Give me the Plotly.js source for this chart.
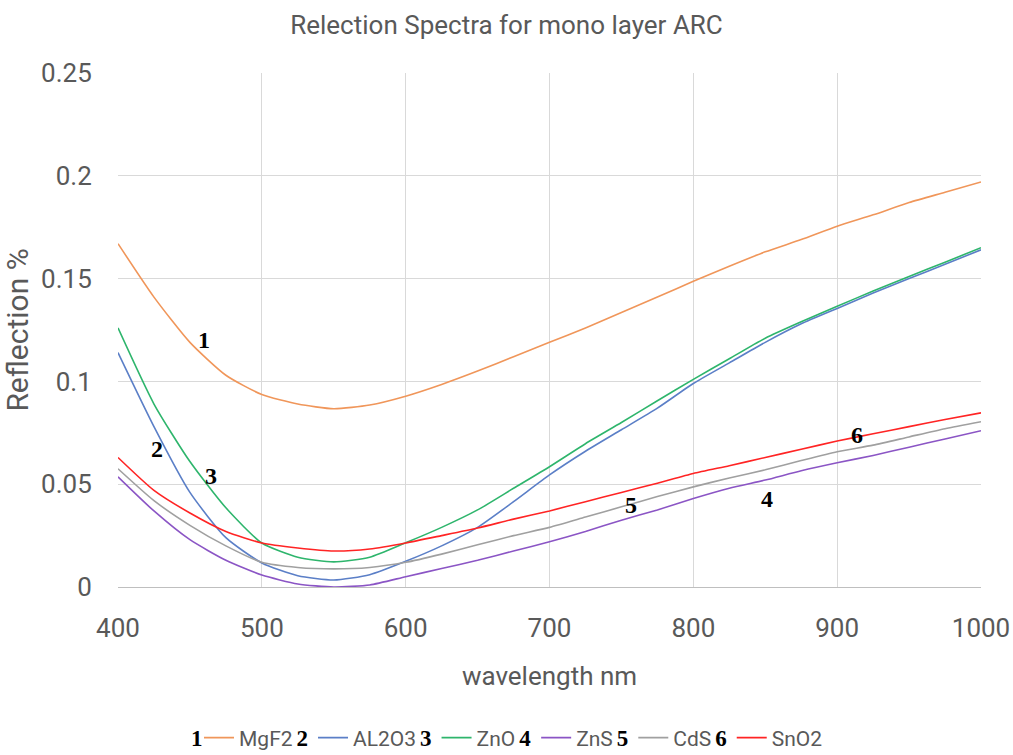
<!DOCTYPE html>
<html>
<head>
<meta charset="utf-8">
<script src="https://cdn.plot.ly/plotly-3.0.1.min.js"></script>
<style>html,body{margin:0;padding:0;background:#fff;}#chart{width:1013px;height:755px;}</style>
</head>
<body>
<div id="chart"></div>
<script>
const wavelength = [400,425,450,475,500,525,550,575,600,625,650,675,700,725,750,775,800,825,850,875,900,925,950,975,1000];
const MgF2  = [0.167,0.141,0.119,0.103,0.0936,0.089,0.0867,0.0885,0.0928,0.0985,0.105,0.112,0.119,0.126,0.1335,0.141,0.1487,0.156,0.163,0.169,0.1755,0.181,0.187,0.192,0.197];
const AL2O3 = [0.114,0.078,0.046,0.024,0.0117,0.0055,0.0034,0.006,0.0125,0.020,0.029,0.0415,0.0545,0.066,0.0765,0.087,0.099,0.109,0.119,0.128,0.1355,0.143,0.150,0.157,0.164];
const ZnO   = [0.126,0.089,0.061,0.0385,0.0214,0.0145,0.0122,0.0145,0.0215,0.029,0.0375,0.048,0.0585,0.0697,0.080,0.0906,0.101,0.111,0.121,0.129,0.1365,0.144,0.151,0.158,0.165];
const ZnS   = [0.0536,0.037,0.023,0.013,0.0058,0.0015,0.0,0.001,0.005,0.009,0.013,0.0175,0.022,0.027,0.0325,0.0375,0.043,0.048,0.052,0.0565,0.0604,0.064,0.068,0.072,0.076];
const CdS   = [0.0575,0.042,0.030,0.020,0.012,0.0095,0.0088,0.0095,0.012,0.016,0.0205,0.025,0.029,0.034,0.039,0.044,0.0487,0.053,0.057,0.0615,0.0658,0.069,0.073,0.077,0.0804];
const SnO2  = [0.063,0.047,0.036,0.027,0.0214,0.019,0.0175,0.0185,0.0214,0.025,0.0287,0.033,0.037,0.0415,0.046,0.0505,0.0552,0.059,0.063,0.067,0.071,0.0745,0.078,0.0815,0.0847];
const seriesNames = ["MgF2","AL2O3","ZnO","ZnS","CdS","SnO2"];
const seriesNums = ["1","2","3","4","5","6"];
const seriesData = [MgF2, AL2O3, ZnO, ZnS, CdS, SnO2];
const colors = ["#F0965A","#5B7FC7","#2EB56C","#8B55C5","#A0A0A0","#FF2424"];
// curve label positions (wavelength, value)
const labelX = [460, 427, 465, 851, 757, 914];
const labelY = [0.120, 0.067, 0.054, 0.043, 0.040, 0.074];

const FONT = 'Roboto, "Open Sans", sans-serif';
const numSpan = n => "<span style='font-family:\"Liberation Serif\",serif;font-weight:bold;color:#000;font-size:23px'>" + n + "</span>";
const gapSpan = "<span style='font-size:16px'>\u00a0</span>";

const traces = seriesData.map((d,i)=>({
  x: wavelength, y: d, type:'scatter', mode:'lines',
  line:{color:colors[i], width:1.6, shape:'spline', smoothing:0.6},
  name: seriesNames[i] + (i < 5 ? gapSpan + numSpan(seriesNums[i+1]) : ""),
  hoverinfo:'x+y'
}));

const annotations = labelX.map((x,i)=>({
  x:x, y:labelY[i], xref:'x', yref:'y', text:'<b>'+seriesNums[i]+'</b>', showarrow:false,
  font:{family:'"Liberation Serif", serif', size:24, color:'#000'}, xanchor:'center', yanchor:'middle'
}));
annotations.push({
  x:(197-118)/863, y:-(738-587)/514, xref:'paper', yref:'paper', text:numSpan("1"), showarrow:false,
  xanchor:'center', yanchor:'middle'
});

const layout = {
  width:1013, height:755,
  paper_bgcolor:'#fff', plot_bgcolor:'#fff',
  margin:{l:118, r:32, t:73, b:168},
  font:{family:FONT, color:'#595959'},
  title:{text:'Relection Spectra for mono layer ARC', x:0.5, xanchor:'center', y:0.967, yanchor:'middle',
         font:{size:26, color:'#595959'}},
  xaxis:{range:[400,1000], dtick:100, tick0:400, showgrid:true, gridcolor:'#d9d9d9', gridwidth:1,
         zeroline:false, showline:true, linecolor:'#bfbfbf', linewidth:1, automargin:false,
         ticks:'outside', ticklen:18, tickcolor:'rgba(0,0,0,0)',
         tickfont:{size:26, color:'#595959'},
         title:{text:'wavelength nm', font:{size:26, color:'#595959'}, standoff:24}},
  yaxis:{range:[0,0.25], dtick:0.05, tick0:0, showgrid:true, gridcolor:'#d9d9d9', gridwidth:1,
         zeroline:false, showline:false, automargin:false,
         ticks:'outside', ticklen:20, tickcolor:'rgba(0,0,0,0)',
         tickfont:{size:26, color:'#595959'},
         title:{text:'Reflection %', font:{size:30, color:'#595959'}, standoff:14}},
  legend:{orientation:'h', xref:'container', yref:'container', x:199/1013, xanchor:'left', y:(755-738)/755, yanchor:'middle',
          font:{size:21, color:'#595959'}, itemwidth:30, tracegroupgap:0},
  showlegend:true,
  annotations: annotations
};

Plotly.newPlot('chart', traces, layout, {displayModeBar:false, staticPlot:true});
</script>
</body>
</html>
